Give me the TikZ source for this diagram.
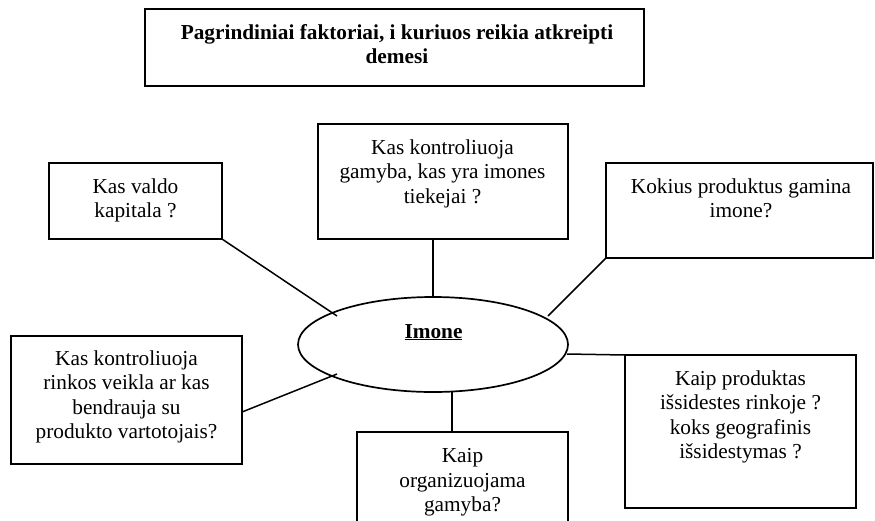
\documentclass[tikz,border=0pt]{standalone}
\usepackage{fontspec}
\setmainfont{Liberation Serif}
\usetikzlibrary{shapes.geometric,calc}
\begin{document}
\begin{tikzpicture}[x=1pt,y=-1pt,
  box/.style={draw,line width=1.7pt,rectangle,anchor=north west,inner sep=0pt,outer sep=0pt},
  txt/.style={anchor=north,align=center,inner sep=0pt,font=\fontsize{21.3}{24.3}\selectfont},
  conn/.style={line width=1.5pt}]
\clip (0,0) rectangle (875,520);
\fill[white] (0,0) rectangle (875,520);
% boxes
\node[box,minimum width=499pt,minimum height=77pt] (title) at (145,9) {};
\node[box,minimum width=173pt,minimum height=76pt] (valdo) at (49,163) {};
\node[box,minimum width=250pt,minimum height=115pt] (ctrl) at (318,124) {};
\node[box,minimum width=267pt,minimum height=95pt] (kokius) at (606,163) {};
\node[box,minimum width=231pt,minimum height=153pt] (produktas) at (625,355) {};
\node[box,minimum width=231pt,minimum height=128pt] (rinkos) at (11,336) {};
\node[box,minimum width=211pt,minimum height=120pt] (org) at (357,432) {};
\node[ellipse,draw,line width=1.7pt,minimum width=270pt,minimum height=95pt,inner sep=0pt] (ell) at (433,344.5) {};
% texts
\node[txt,font=\fontsize{21.3}{24.5}\selectfont\bfseries] (titletxt) at (397,24) {Pagrindiniai faktoriai, i kuriuos reikia atkreipti\\demesi};
\node[txt] (valdotxt) at (135.5,178.5) {Kas valdo\\kapitala ?};
\node[txt] (ctrltxt) at (442.5,139.5) {Kas kontroliuoja\\gamyba, kas yra imones\\tiekejai ?};
\node[txt] (kokiustxt) at (741,178.5) {Kokius produktus gamina\\imone?};
\node[txt] (produktastxt) at (740.5,370.5) {Kaip produktas\\išsidestes rinkoje ?\\koks geografinis\\išsidestymas ?};
\node[txt] (rinkostxt) at (126.5,350.5) {Kas kontroliuoja\\rinkos veikla ar kas\\bendrauja su\\produkto vartotojais?};
\node[txt] (orgtxt) at (462.5,448.5) {Kaip\\organizuojama\\gamyba?};
\node[anchor=base,inner sep=0pt,font=\fontsize{21.3}{24.3}\selectfont\bfseries] (imone) at (433.5,338) {\underline{Imone}};
% connectors
\coordinate (e1) at (337,316);
\coordinate (e3) at (548,316);
\coordinate (e4) at (567,354);
\coordinate (e5) at (337,374);
\coordinate (e6) at (452,392);
\draw[conn] (valdo.south east) -- (e1);
\draw[conn] (ell.north |- ctrl.south) -- (ell.north);
\draw[conn] (kokius.south west) -- (e3);
\draw[conn] (e4) -- (produktas.north west);
\draw[conn] ([yshift=-12pt]rinkos.east) -- (e5);
\draw[conn] (e6) -- (e6 |- org.north);
\end{tikzpicture}
\end{document}
